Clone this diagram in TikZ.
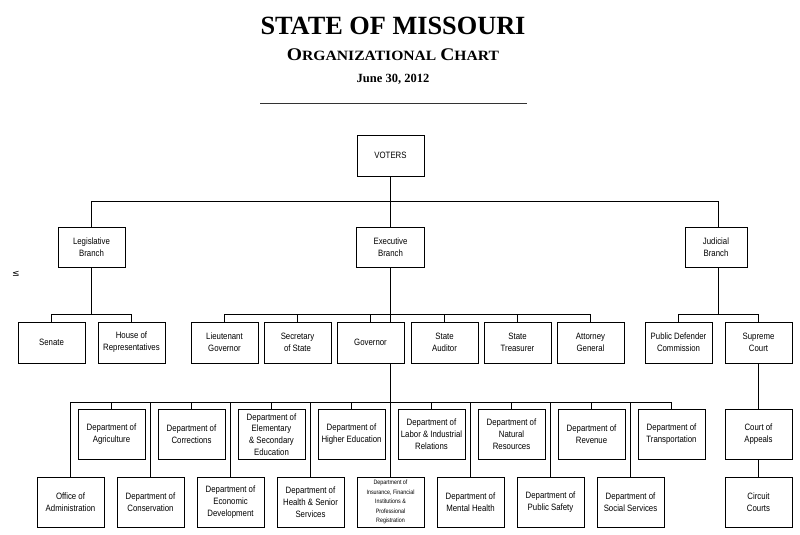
\documentclass[tikz,border=0pt]{standalone}
\usepackage{fontspec}
\setmainfont{Liberation Serif}
\newfontfamily\boxfont{Liberation Sans}[FakeStretch=0.85]
\newfontfamily\symfont{DejaVu Sans}
\usetikzlibrary{shadows}
\tikzset{
  orgbox/.style={draw, line width=0.9pt, fill=white, align=center, inner sep=1pt,
    minimum width=67pt, minimum height=41pt,
    font=\boxfont\fontsize{9.2}{11.8}\selectfont,
    drop shadow={shadow xshift=0.9pt, shadow yshift=-0.9pt, opacity=1, fill=black}},
  deptbox/.style={orgbox, minimum height=50pt},
  conn/.style={line width=1.2pt, black},
  titlefont/.style={font=\bfseries\fontsize{26.3}{30}\selectfont},
}
\begin{document}
\begin{tikzpicture}[x=1pt,y=-1pt]
\useasboundingbox (0,0) rectangle (800,535);
% titles
\node[anchor=base, inner sep=0, titlefont] (t1) at (393,35) {STATE OF MISSOURI};
\node[anchor=base, inner sep=0, font=\bfseries] (t2) at (393,60)
  {\scalebox{1.1}[1]{{\fontsize{17.8}{20}\selectfont O}{\fontsize{14.2}{16}\selectfont RGANIZATIONAL }{\fontsize{17.8}{20}\selectfont C}{\fontsize{14.2}{16}\selectfont HART}}};
\node[anchor=base, inner sep=0, font=\bfseries\fontsize{12.5}{14}\selectfont] (t3) at (393,82) {June 30, 2012};
\coordinate (rl) at (260,103.5);
\coordinate (rr) at (527,103.5);
\draw[line width=1pt, black!80] (rl) -- (rr);
\node[font=\symfont\fontsize{9}{10}\selectfont, inner sep=0] (le) at (16,274) {≤};

% level 1-2
\node[orgbox] (voters) at (390.5,155.5) {VOTERS};
\node[orgbox, minimum height=40pt] (leg) at (91.5,247) {Legislative\\Branch};
\node[orgbox, minimum height=40pt, minimum width=68pt] (exec) at (390.5,247) {Executive\\Branch};
\node[orgbox, minimum height=40pt, minimum width=62pt] (jud) at (716,247) {Judicial\\Branch};

% level 3
\node[orgbox] (sen) at (51.5,342.5) {Senate};
\node[orgbox] (house) at (131.5,342.5) {House of\\Representatives};
\node[orgbox] (ltgov) at (224.5,342.5) {Lieutenant\\Governor};
\node[orgbox] (sos) at (297.5,342.5) {Secretary\\of State};
\node[orgbox] (gov) at (370.5,342.5) {Governor};
\node[orgbox] (aud) at (444.5,342.5) {State\\Auditor};
\node[orgbox] (treas) at (517.5,342.5) {State\\Treasurer};
\node[orgbox] (atg) at (590.5,342.5) {Attorney\\General};
\node[orgbox] (pdc) at (678.5,342.5) {Public Defender\\Commission};
\node[orgbox] (sc) at (758.5,342.5) {Supreme\\Court};

% departments, upper row
\node[deptbox] (agr) at (111.5,434.5) {Department of\\Agriculture};
\node[deptbox] (cor) at (191.5,434.5) {Department of\\Corrections};
\node[deptbox] (ele) at (271.5,434.5) {Department of\\Elementary\\\& Secondary\\Education};
\node[deptbox] (hed) at (351.5,434.5) {Department of\\Higher Education};
\node[deptbox] (lab) at (431.5,434.5) {Department of\\Labor \& Industrial\\Relations};
\node[deptbox] (nat) at (511.5,434.5) {Department of\\Natural\\Resources};
\node[deptbox] (rev) at (591.5,434.5) {Department of\\Revenue};
\node[deptbox] (tra) at (671.5,434.5) {Department of\\Transportation};
\node[deptbox] (coa) at (758.5,434.5) {Court of\\Appeals};

% departments, lower row
\node[deptbox] (oa) at (70.5,502) {Office of\\Administration};
\node[deptbox] (con) at (150.5,502) {Department of\\Conservation};
\node[deptbox] (eco) at (230.5,502) {Department of\\Economic\\Development};
\node[deptbox] (hss) at (310.5,502) {Department of\\Health \& Senior\\Services};
\node[deptbox, font=\boxfont\fontsize{6.3}{9.6}\selectfont] (ins) at (390.5,502) {Department of\\Insurance, Financial\\Institutions \&\\Professional\\Registration};
\node[deptbox] (mh) at (470.5,502) {Department of\\Mental Health};
\node[deptbox] (ps) at (550.5,502) {Department of\\Public Safety};
\node[deptbox] (ss) at (630.5,502) {Department of\\Social Services};
\node[deptbox] (cc) at (758.5,502) {Circuit\\Courts};

% buses
\coordinate (topbus) at (390.5,201.5);
\coordinate (legbus) at (91.5,314.5);
\coordinate (exbus) at (390.5,314.5);
\coordinate (judbus) at (718.5,314.5);
\coordinate (depbus) at (390.5,402.5);

% connectors
\draw[conn] (voters.south) -- (exec.north);
\draw[conn] (leg.north) |- (topbus) -| (jud.north -| judbus);
\draw[conn] (leg.south) -- (legbus);
\draw[conn] (sen.north) |- (legbus) -| (house.north);
\draw[conn] (exec.south) -- (exec.south |- gov.north);
\draw[conn] (ltgov.north) |- (exbus) -| (atg.north);
\draw[conn] (sos.north) -- (sos.north |- exbus);
\draw[conn] (gov.north) -- (gov.north |- exbus);
\draw[conn] (aud.north) -- (aud.north |- exbus);
\draw[conn] (treas.north) -- (treas.north |- exbus);
\draw[conn] (jud.south -| judbus) -- (judbus);
\draw[conn] (pdc.north) |- (judbus) -| (sc.north);
\draw[conn] (sc.south) -- (coa.north);
\draw[conn] (coa.south) -- (cc.north);
\draw[conn] (ins.north |- gov.south) -- (ins.north);
\draw[conn] (oa.north) |- (depbus) -| (tra.north);
\foreach \n in {agr,cor,ele,hed,lab,nat,rev,con,eco,hss,mh,ps,ss}
  \draw[conn] (\n.north) -- (\n.north |- depbus);
\end{tikzpicture}
\end{document}
